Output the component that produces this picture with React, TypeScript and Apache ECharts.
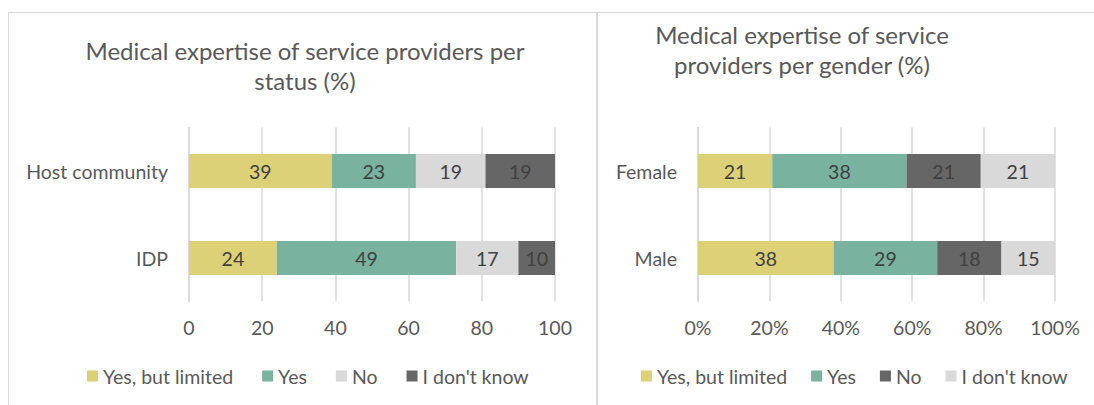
import React, { useEffect, useRef } from "react";
import * as echarts from "echarts";

const seriesNames = ["Yes, but limited", "Yes", "No", "I don't know"];

const statusCategories = ["Host community", "IDP"];
const statusYesLimited = [39, 24];
const statusYes = [23, 49];
const statusNo = [19, 17];
const statusDontKnow = [19, 10];

const genderCategories = ["Female", "Male"];
const genderYesLimited = [21, 38];
const genderYes = [38, 29];
const genderNo = [21, 18];
const genderDontKnow = [21, 15];

const YELLOW = "#DDD178";
const GREEN = "#79B3A0";
const LIGHT = "#D9D9D9";
const DARK = "#666666";
const TEXT = "#595959";
const FONT = "Lato";
const FS = 19.5;

function baseOption(title: string, titleX: number, titleY: number, cats: string[], gridLeft: number, gridWidth: number, legendLeft: number, legendGap: number) {
  return {
    animation: false,
    textStyle: { fontFamily: FONT },
    title: {
      text: title,
      left: titleX,
      top: titleY,
      padding: 0,
      textAlign: "center",
      textStyle: { fontFamily: FONT, fontSize: 24, fontWeight: "normal", color: TEXT, lineHeight: 30 },
    },
    legend: {
      left: legendLeft,
      top: 366,
      padding: 0,
      icon: "rect",
      itemWidth: 11,
      itemHeight: 11,
      itemGap: legendGap,
      textStyle: { fontFamily: FONT, fontSize: FS, color: TEXT },
      data: seriesNames,
    },
    grid: { left: gridLeft, width: gridWidth, top: 127.5, height: 174 },
    yAxis: {
      type: "category",
      data: cats,
      inverse: true,
      axisLine: { show: true, lineStyle: { color: LIGHT, width: 1.5 } },
      axisTick: { show: false },
      axisLabel: { fontFamily: FONT, fontSize: FS, color: TEXT, margin: 21 },
    },
  };
}

function Chart({ option, width, height }: { option: any; width: number; height: number }) {
  const ref = useRef<HTMLDivElement>(null);
  useEffect(() => {
    if (!ref.current) return;
    const chart = echarts.init(ref.current, undefined, { renderer: "svg" });
    chart.setOption(option);
    return () => chart.dispose();
  }, [option]);
  return <div ref={ref} style={{ width, height }} />;
}

function barLabel(color: string) {
  return {
    show: true,
    position: "inside",
    fontFamily: FONT,
    fontSize: FS,
    color,
  };
}

function valueAxis(formatter?: string) {
  return {
    type: "value",
    min: 0,
    max: 100,
    interval: 20,
    axisLine: { show: false },
    axisTick: { show: false },
    splitLine: { show: true, lineStyle: { color: LIGHT, width: 1.5 } },
    axisLabel: { fontFamily: FONT, fontSize: FS, color: TEXT, margin: 16, ...(formatter ? { formatter } : {}) },
  };
}

const statusSeriesRaw = [statusYesLimited, statusYes, statusNo, statusDontKnow];
const statusColors = [YELLOW, GREEN, LIGHT, DARK];

const leftOption: any = {
  ...baseOption("Medical expertise of service providers per\nstatus (%)", 305, 35, statusCategories, 189, 366, 87, 29),
  xAxis: valueAxis(),
  series: statusSeriesRaw.map((arr, si) => ({
    name: seriesNames[si],
    type: "bar",
    stack: "s",
    barWidth: 34,
    data: arr,
    itemStyle: { color: statusColors[si] },
    label: barLabel("#404040"),
  })),
};

const genderSeriesRaw = [genderYesLimited, genderYes, genderNo, genderDontKnow];
const genderTotals = genderCategories.map((_, i) => genderSeriesRaw.reduce((s, arr) => s + arr[i], 0));
const genderColors = [YELLOW, GREEN, DARK, LIGHT];

const rightOption: any = {
  ...baseOption("Medical expertise of service\nproviders per gender (%)", 205, 19, genderCategories, 101, 357, 44, 24),
  xAxis: valueAxis("{value}%"),
  series: genderSeriesRaw.map((arr, si) => ({
    name: seriesNames[si],
    type: "bar",
    stack: "g",
    barWidth: 34,
    data: arr.map((v, i) => (v / genderTotals[i]) * 100),
    itemStyle: { color: genderColors[si] },
    label: { ...barLabel("#404040"), formatter: (p: any) => String(arr[p.dataIndex]) },
  })),
};

export default function App() {
  useEffect(() => {
    document.body.style.margin = "0";
  }, []);
  return (
    <div style={{ position: "relative", width: 1094, height: 405, overflow: "hidden", background: "#fff" }}>
      <div style={{ position: "absolute", left: 0, top: 0 }}>
        <Chart option={leftOption} width={597} height={405} />
      </div>
      <div style={{ position: "absolute", left: 597, top: 0 }}>
        <Chart option={rightOption} width={497} height={405} />
      </div>
      <div style={{ position: "absolute", left: 8, top: 12, width: 588, height: 500, border: "1.5px solid #D9D9D9", pointerEvents: "none" }} />
      <div style={{ position: "absolute", left: 596, top: 12, width: 600, height: 500, border: "1.5px solid #D9D9D9", pointerEvents: "none" }} />
    </div>
  );
}
